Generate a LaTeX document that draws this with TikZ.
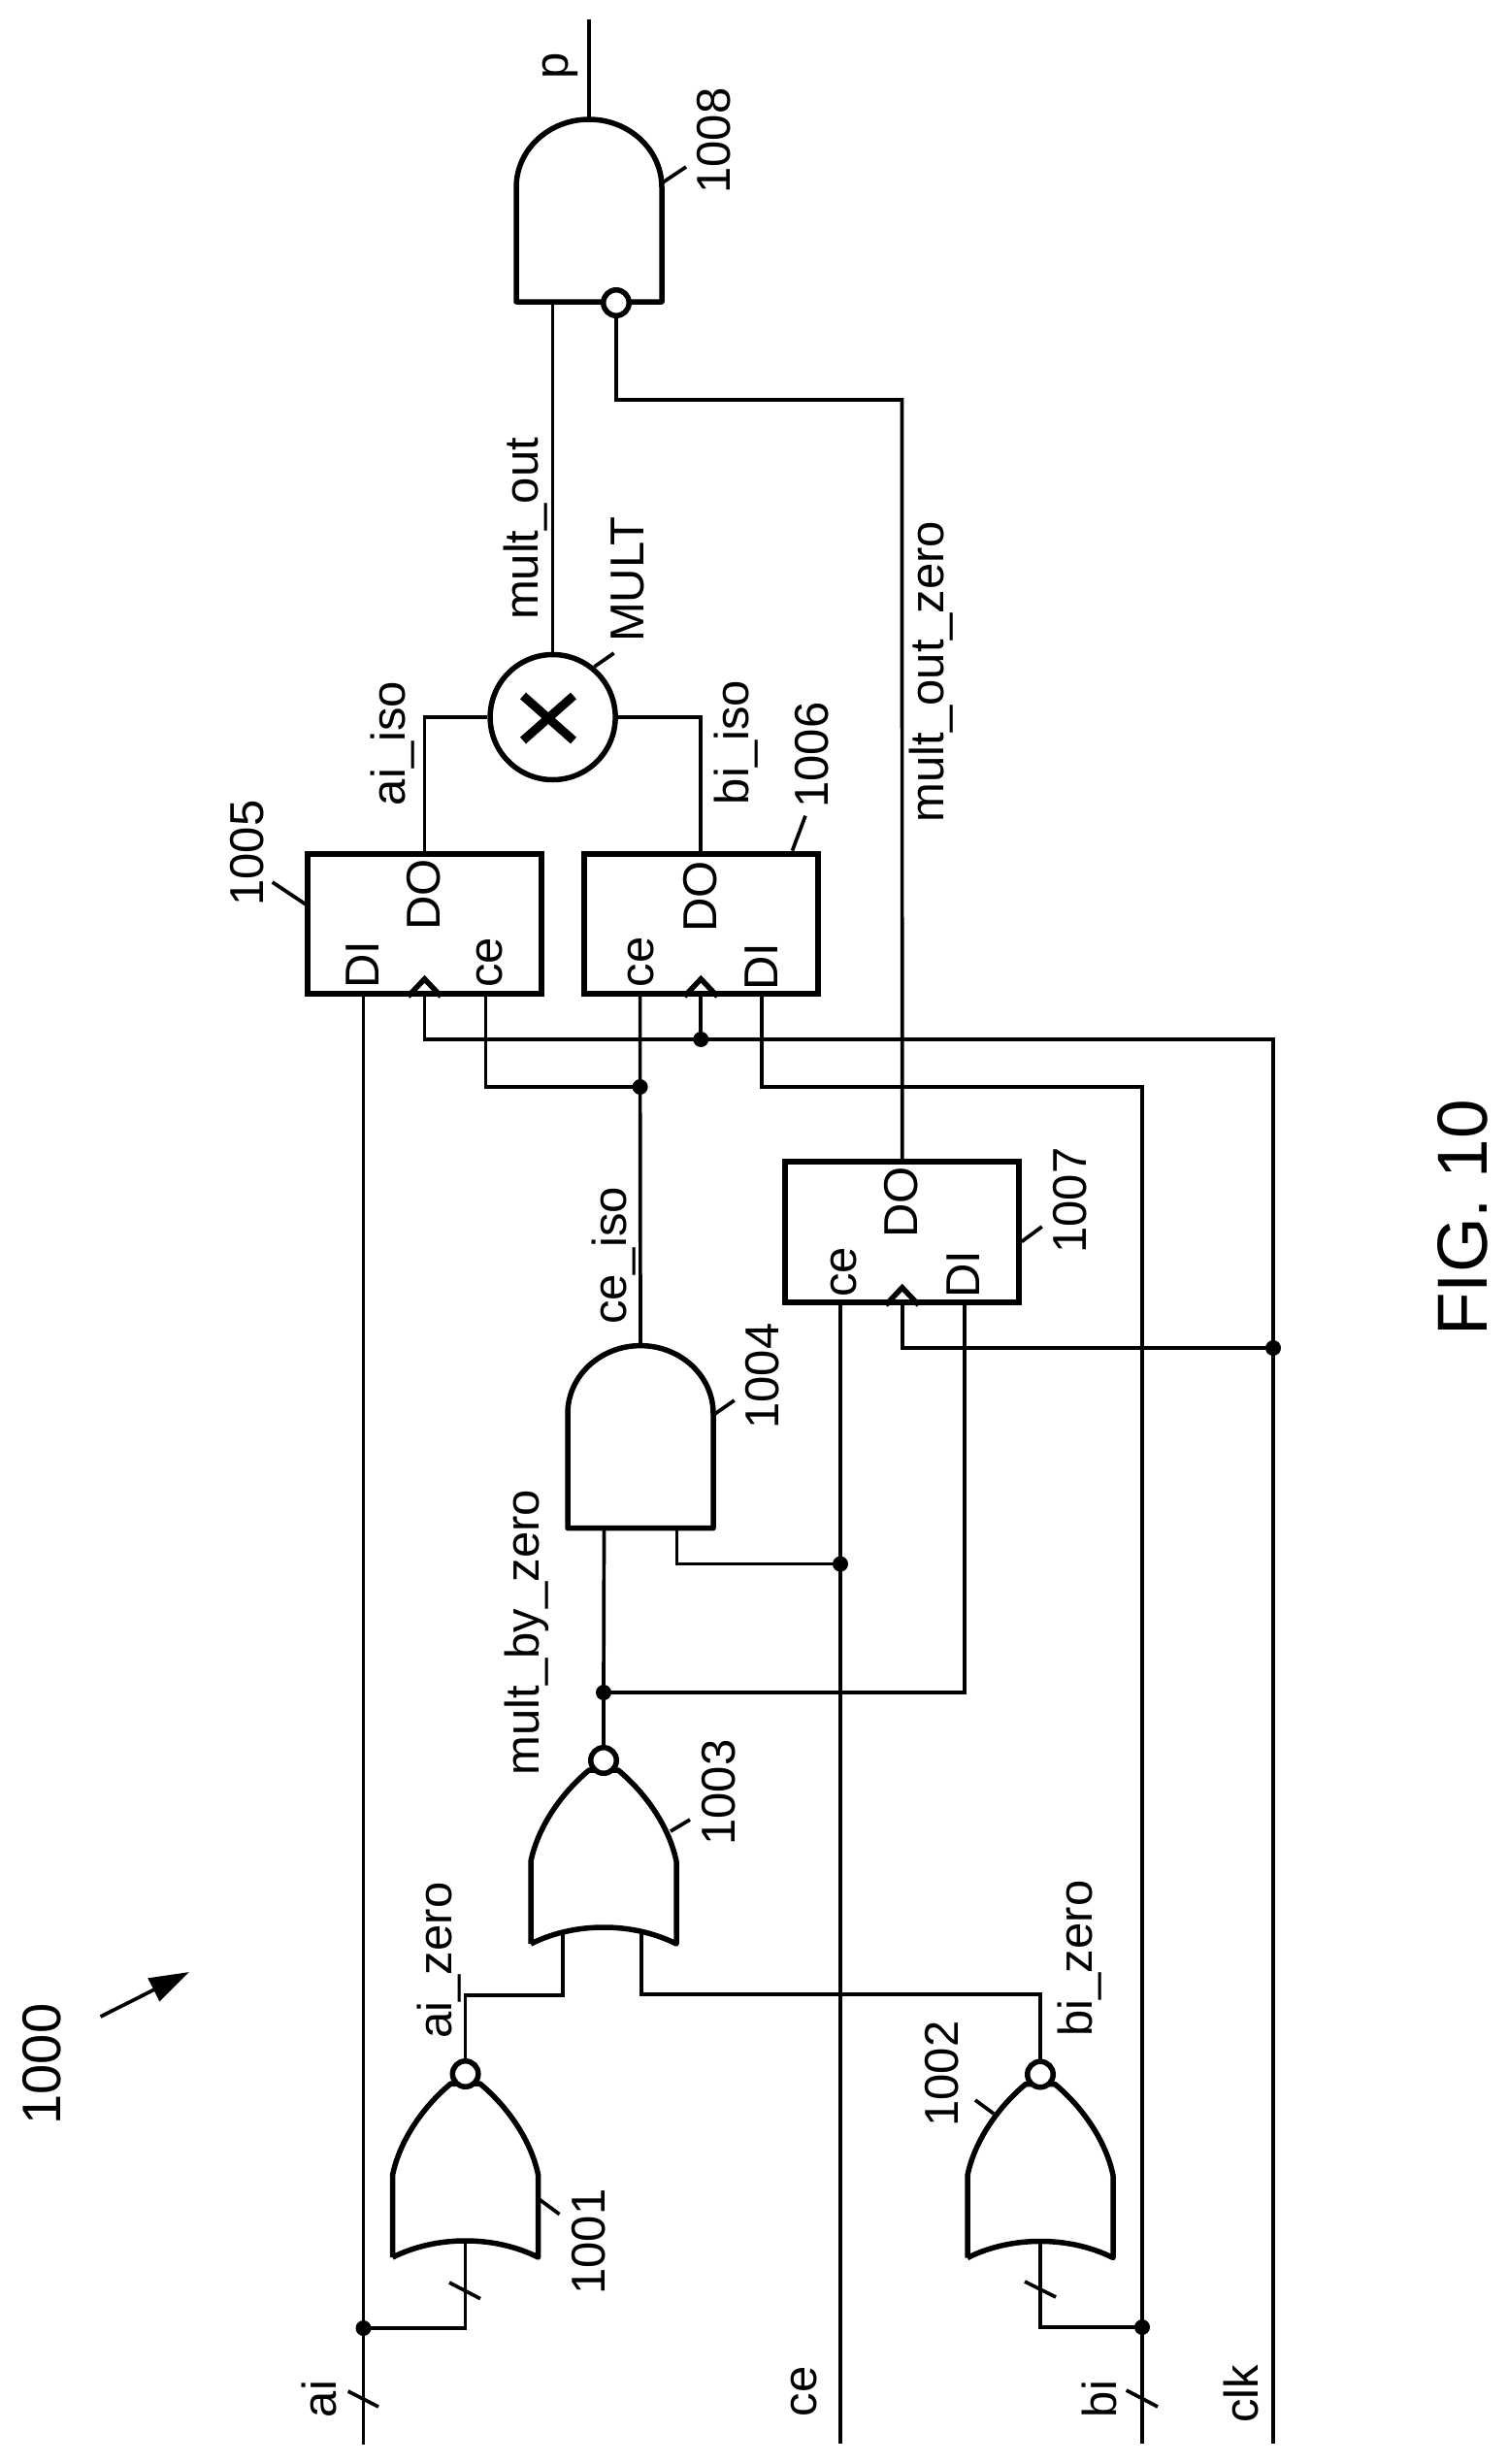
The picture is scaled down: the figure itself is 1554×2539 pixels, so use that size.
\documentclass[tikz,border=0pt]{standalone}
\usepackage{fontspec}
\setmainfont{Liberation Sans}
\usetikzlibrary{arrows.meta}
\tikzset{
  wire/.style={line width=3.7pt,line join=miter},
  leader/.style={line width=3.7pt},
  outline/.style={line width=5.5pt,line join=round},
  lab/.style={rotate=90,anchor=base,inner sep=0pt,font=\fontsize{49}{49}\selectfont},
  biglab/.style={rotate=90,anchor=base,inner sep=0pt,font=\fontsize{56}{56}\selectfont},
  figlab/.style={rotate=90,anchor=base,inner sep=0pt,font=\fontsize{73}{73}\selectfont},
  junction/.style={circle,fill=black,draw=none,inner sep=0pt,minimum size=16pt},
  bubble/.style={circle,draw=black,fill=white,line width=5.5pt,inner sep=0pt,minimum size=26.5pt},
  ffbox/.style={rectangle,draw=black,line width=5.5pt,inner sep=0pt,minimum width=241pt,minimum height=144pt},
  multbox/.style={circle,draw=black,line width=5.5pt,inner sep=0pt,minimum size=129pt},
  clocktip/.style={line width=5.5pt,line join=miter},
  norgate/.pic={
    \draw[outline] (-75,189) -- (-75,104) .. controls (-68,70) and (-45,35) .. (-15,10)
      -- (15,10) .. controls (45,35) and (68,70) .. (75,104) -- (75,189)
      .. controls (30,166.3) and (-30,166.3) .. (-75,189);
    \node[bubble] (-bub) at (0,0) {};
    \coordinate (-in) at (0,172);
    \coordinate (-ina) at (-42,177);
    \coordinate (-inb) at (39,177);
  },
  andgate/.pic={
    \draw[outline] (-75,188) -- (-75,70) .. controls (-75,31) and (-41,0) .. (0,0)
      .. controls (41,0) and (75,31) .. (75,70) -- (75,188) -- cycle;
    \coordinate (-top) at (0,0);
    \coordinate (-ina) at (-37.5,188);
    \coordinate (-inb) at (37.5,188);
  }
}
\begin{document}
\begin{tikzpicture}[x=1pt,y=-1pt]
\useasboundingbox (0,0) rectangle (1554,2539);

% gates
\pic (g1) at (479.6,2137) {norgate};
\pic (g2) at (1072,2137.5) {norgate};
\pic (g3) at (622,1814) {norgate};
\pic (g4) at (660,1386.6) {andgate};
\pic (g8) at (607,123) {andgate};
\node[bubble] (g8bub) at (635,312) {};

% registers and multiplier
\node[ffbox] (ff5) at (437.5,952) {};
\node[ffbox] (ff6) at (722.3,952) {};
\node[ffbox,minimum height=145pt] (ff7) at (929.7,1269.5) {};
\node[multbox] (mult) at (569.6,739) {};
\draw[line width=9pt] (539,717) -- (591,763) (591,717) -- (539,763);

% clock marks
\draw[clocktip] ([xshift=-17pt]ff5.south) -- ([yshift=18pt]ff5.south) -- ([xshift=17pt]ff5.south);
\draw[clocktip] ([xshift=-17pt]ff6.south) -- ([yshift=18pt]ff6.south) -- ([xshift=17pt]ff6.south);
\draw[clocktip] ([xshift=-17pt]ff7.south) -- ([yshift=18pt]ff7.south) -- ([xshift=17pt]ff7.south);

% junctions
\node[junction] (jai) at (374.5,2399) {};
\node[junction] (jbi) at (1177,2398) {};
\node[junction] (jclkA) at (722.3,1071) {};
\node[junction] (jclkB) at (1312,1389) {};
\node[junction] (jce) at (659.6,1120) {};
\node[junction] (jceb) at (866,1611.6) {};
\node[junction] (jmbz) at (622,1744) {};

% free ends and pins
\coordinate (aiEnd) at (374.5,2519);
\coordinate (ceEnd) at (866,2518);
\coordinate (biEnd) at (1177,2518);
\coordinate (clkEnd) at (1312,2518);
\coordinate (pEnd) at (607,20);
\coordinate (ff5di) at (374.5,1024);
\coordinate (ff5ce) at (500.4,1024);
\coordinate (ff6di) at (785,1024);
\coordinate (ff6ce) at (659.6,1024);
\coordinate (ff7ce) at (866,1342);
\coordinate (ff7di) at (994,1342);

% input buses
\draw[wire] (aiEnd) -- (jai.center) -- (ff5di);
\draw[wire] (ceEnd) -- (jceb.center) -- (ff7ce);
\draw[wire] (biEnd) -- (jbi.center) -- (1177,1120) -| (ff6di);
\draw[wire] (clkEnd) -- (jclkB.center) -- (1312,1071) -- (jclkA.center) -- (437.5,1071) -- (ff5.south);
\draw[wire] (jclkA.center) -- (ff6.south);
\draw[wire] (jclkB.center) -| (ff7.south);

% first stage
\draw[wire] (jai.center) -| (g1-in);
\draw[wire] (jbi.center) -| (g2-in);
\draw[wire] (g1-bub.north) |- (479.6,2056) -| (g3-ina);
\draw[wire] (g2-bub.north) |- (1072,2055) -| (g3-inb);

% enable logic
\draw[wire] (g3-bub.north) -- (jmbz.center) -- (g4-ina);
\draw[wire] (jmbz.center) -| (ff7di);
\draw[wire] (g4-inb) |- (jceb.center);
\draw[wire] (g4-top) -- (jce.center) -- (ff6ce);
\draw[wire] (jce.center) -| (ff5ce);

% multiplier
\draw[wire] (mult.west) -| (ff5.north);
\draw[wire] (mult.east) -| (ff6.north);
\draw[wire] (mult.north) -- (569.6,311);
\draw[wire] (g8-top) -- (pEnd);
\draw[wire] (g8bub.south) |- (929.5,412) -- (ff7.north);

% bus slashes
\draw[leader] (358.7,2464) -- (390,2480);
\draw[leader] (463,2352) -- (495,2368.6);
\draw[leader] (1160.7,2463) -- (1193,2480);
\draw[leader] (1056,2351) -- (1088,2367);

% reference leaders
\draw[leader] (556,2266.5) -- (576.5,2281.6);
\draw[leader] (1005,2164) -- (1024,2178);
\draw[leader] (691,1887) -- (711,1875);
\draw[leader] (736.6,1457) -- (756.7,1443);
\draw[leader] (280.7,909) -- (316.7,933);
\draw[leader] (816.5,876.6) -- (830,840.6);
\draw[leader] (1052.7,1279.5) -- (1073.7,1264);
\draw[leader] (683,188) -- (707,172);
\draw[leader] (612.5,687) -- (632.6,673);

% overall arrow
\coordinate (arrA) at (103.6,2078);
\coordinate (arrB) at (195,2032);
\draw[line width=3.7pt,-{Triangle[length=41pt,width=26pt]}] (arrA) -- (arrB);

% labels
\node[biglab] (t1000) at (62.2,2127) {1000};
\node[figlab] (tfig) at (1532.7,1255) {FIG. 10};
\node[lab] (tai) at (346,2472) {ai};
\node[lab] (tce) at (841.5,2464.5) {ce};
\node[lab] (tbi) at (1150,2472) {bi};
\node[lab] (tclk) at (1296,2467) {clk};
\node[lab] (taiz) at (465,2020) {ai\_zero};
\node[lab] (tbiz) at (1125.5,2018) {bi\_zero};
\node[lab] (t1001) at (623,2310) {1001};
\node[lab] (t1002) at (987,2137) {1002};
\node[lab] (t1003) at (757.6,1847) {1003};
\node[lab] (t1004) at (802.7,1418) {1004};
\node[lab] (t1005) at (271.7,879) {1005};
\node[lab] (t1006) at (853.6,778) {1006};
\node[lab] (t1007) at (1119.6,1237) {1007};
\node[lab] (t1008) at (752.7,145) {1008};
\node[lab] (tmbz) at (555,1682) {mult\_by\_zero};
\node[lab] (tceiso) at (645,1294) {ce\_iso};
\node[lab] (taiiso) at (417,766) {ai\_iso};
\node[lab] (tbiiso) at (771,765) {bi\_iso};
\node[lab] (tmoz) at (972,692) {mult\_out\_zero};
\node[lab] (tmo) at (554.5,545) {mult\_out};
\node[lab] (tmult) at (663,597) {MULT};
\node[lab] (tp) at (585,68) {p};
\node[lab] (do5) at (453,922) {DO};
\node[lab] (di5) at (390,994) {DI};
\node[lab] (ce5) at (517,992) {ce};
\node[lab] (do6) at (738,924) {DO};
\node[lab] (ce6) at (673,991.6) {ce};
\node[lab] (di6) at (801,996) {DI};
\node[lab] (do7) at (945,1239) {DO};
\node[lab] (ce7) at (882.6,1311) {ce};
\node[lab] (di7) at (1009,1313) {DI};
\end{tikzpicture}
\end{document}
